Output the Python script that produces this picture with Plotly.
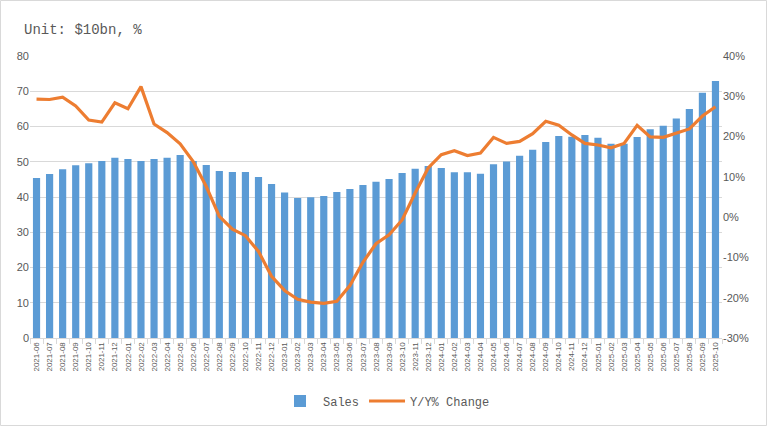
import plotly.graph_objects as go

months = [
    "2021-06", "2021-07", "2021-08", "2021-09", "2021-10", "2021-11", "2021-12",
    "2022-01", "2022-02", "2022-03", "2022-04", "2022-05", "2022-06",
    "2022-07", "2022-08", "2022-09", "2022-10", "2022-11", "2022-12",
    "2023-01", "2023-02", "2023-03", "2023-04", "2023-05", "2023-06",
    "2023-07", "2023-08", "2023-09", "2023-10", "2023-11", "2023-12",
    "2024-01", "2024-02", "2024-03", "2024-04", "2024-05", "2024-06",
    "2024-07", "2024-08", "2024-09", "2024-10", "2024-11", "2024-12",
    "2025-01", "2025-02", "2025-03", "2025-04", "2025-05", "2025-06",
    "2025-07", "2025-08", "2025-09", "2025-10",
]

sales = [
    45.4, 46.5, 47.9, 49.0, 49.6, 50.2, 51.1,
    50.8, 50.2, 50.8, 51.1, 51.9, 50.2,
    49.1, 47.4, 47.1, 47.1, 45.7, 43.7,
    41.3, 39.7, 39.9, 40.3, 41.4, 42.3,
    43.4, 44.3, 45.1, 46.8, 48.0, 48.8,
    48.2, 47.0, 47.0, 46.6, 49.3, 50.1,
    51.7, 53.4, 55.6, 57.3, 57.1, 57.6,
    56.8, 55.1, 55.1, 57.0, 59.2, 60.2,
    62.3, 65.0, 69.6, 72.9,
]

yoy_change = [
    29.3, 29.2, 29.8, 27.6, 24.1, 23.6, 28.4,
    26.9, 32.4, 23.1, 21.0, 18.2, 13.8,
    7.6, 0.2, -3.0, -4.6, -8.5, -14.7,
    -18.2, -20.4, -21.1, -21.4, -20.9, -17.0,
    -11.2, -6.6, -4.4, -0.7, 6.0, 12.2,
    15.5, 16.5, 15.3, 15.9, 19.8, 18.3,
    18.8, 20.7, 23.8, 22.8, 20.4, 18.3,
    17.9, 17.2, 18.3, 22.8, 19.9, 19.8,
    20.8, 21.9, 25.1, 27.4,
]

left_ticks = [0, 10, 20, 30, 40, 50, 60, 70, 80]
right_ticks = [-30, -20, -10, 0, 10, 20, 30, 40]
right_tick_text = [f"{v}%" for v in right_ticks]

GRAY = "#595959"
LIGHT = "#D9D9D9"
MONO = "Liberation Mono, DejaVu Sans Mono, monospace"
SANS = "Liberation Sans, Arial, sans-serif"

fig = go.Figure()
fig.add_trace(go.Bar(
    x=months, y=sales, name="Sales",
    marker=dict(color="#5B9BD5", line=dict(width=0)),
    yaxis="y",
))
fig.add_trace(go.Scatter(
    x=months, y=yoy_change, name="Y/Y% Change", mode="lines",
    line=dict(color="#ED7D31", width=3.2),
    yaxis="y2",
))

L, R, T, B = 30, 45, 56, 88
W, H = 767, 426
pw, ph = W - L - R, H - T - B

fig.update_layout(
    width=W, height=H,
    margin=dict(l=L, r=R, t=T, b=B, pad=0, autoexpand=False),
    paper_bgcolor="white", plot_bgcolor="white",
    bargap=0.45,
    showlegend=True,
    legend=dict(
        orientation="h", x=(386 - L) / pw, xanchor="center", y=(H - B - 401) / ph, yanchor="middle",
        font=dict(family=MONO, size=12, color=GRAY),
        bgcolor="rgba(0,0,0,0)",
        itemwidth=36, traceorder="normal",
    ),
    xaxis=dict(
        type="category", automargin=False,
        tickangle=-90,
        tickfont=dict(family=SANS, size=8, color=GRAY),
        showline=True, linecolor=LIGHT, linewidth=1,
        ticks="outside", tickson="boundaries", ticklen=5, tickcolor=LIGHT,
        showgrid=False,
    ),
    yaxis=dict(
        range=[0, 80], tickvals=left_ticks, automargin=False,
        tickfont=dict(family=SANS, size=11, color=GRAY),
        showgrid=True, gridcolor=LIGHT, gridwidth=1,
        zeroline=False, showline=False, ticks="",
    ),
    yaxis2=dict(
        range=[-30, 40], tickvals=right_ticks, ticktext=right_tick_text,
        overlaying="y", side="right", automargin=False,
        tickfont=dict(family=SANS, size=11, color=GRAY),
        showgrid=False, zeroline=False, showline=False, ticks="",
    ),
    annotations=[dict(
        text="Unit: $10bn, %", xref="paper", yref="paper",
        x=(22 - L) / pw, y=(H - B - 30) / ph, xanchor="left", yanchor="middle",
        showarrow=False, font=dict(family=MONO, size=14, color=GRAY),
    )],
    shapes=[dict(
        type="rect", xref="paper", yref="paper",
        x0=(0.5 - L) / pw, x1=(W - 0.5 - L) / pw,
        y0=(H - B - (H - 0.5)) / ph, y1=(H - B - 0.5) / ph,
        line=dict(color=LIGHT, width=1), fillcolor="rgba(0,0,0,0)", layer="below",
    )],
)

fig.write_html(
    "out.html",
    config={"displayModeBar": False},
    post_script="document.body.style.margin='0';document.body.style.overflow='hidden';",
)
